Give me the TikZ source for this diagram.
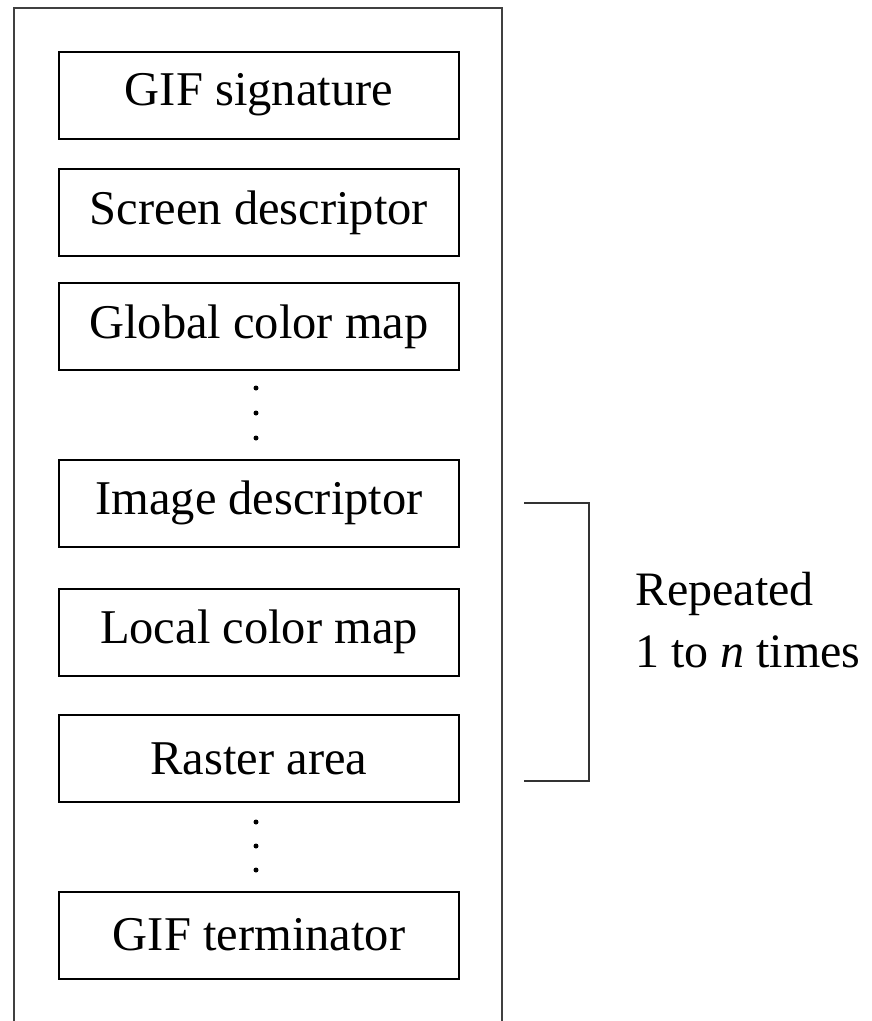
\documentclass[tikz,border=0pt]{standalone}
\usepackage{fontspec}
\setmainfont{Liberation Serif}
\usepackage{tikz}
\usetikzlibrary{positioning}

\begin{document}
\begin{tikzpicture}[
        x=1pt, y=-1pt,
        block/.style={rectangle, draw, line width=2pt, minimum width=400pt, minimum height=87pt, font=\fontsize{48.5}{55}\selectfont},
        dot/.style={circle, fill=black, inner sep=0pt, minimum size=5pt},
        frame/.style={line width=2pt, draw=black!75},
        brace/.style={line width=2pt, draw=black!80}
        ]

        \useasboundingbox (0,0) rectangle (871,1021);

        % outer frame, open at the bottom
        \draw [frame] (14,1021) -- (14,8) -- (502,8) -- (502,1021);

        \node (sig) [block] at (259,95) {GIF signature};
        \node (scr) [block] at (259,212.5) {Screen descriptor};
        \node (gcm) [block] at (259,326.5) {Global color map};
        \node (img) [block] at (259,503) {Image descriptor};
        \node (lcm) [block] at (259,632) {Local color map};
        \node (ras) [block] at (259,758.5) {Raster area};
        \node (term) [block] at (259,935) {GIF terminator};

        % the dots between the blocks
        \foreach \i/\y in {1/388,2/413,3/438} {
            \node (dotA\i) [dot] at (256,\y) {};
        }
        \foreach \i/\y in {1/822,2/846,3/870} {
            \node (dotB\i) [dot] at (256,\y) {};
        }

        \coordinate (brtop) at (524,503);
        \coordinate (brbot) at (524,781);
        \draw [brace] (brtop) -- ++(65,0) |- (brbot);

        \node (rep) [anchor=west, align=left, inner sep=0pt, font=\fontsize{48}{62}\selectfont] at (635,620) {Repeated\\1 to \textit{n} times};

    \end{tikzpicture}
\end{document}
